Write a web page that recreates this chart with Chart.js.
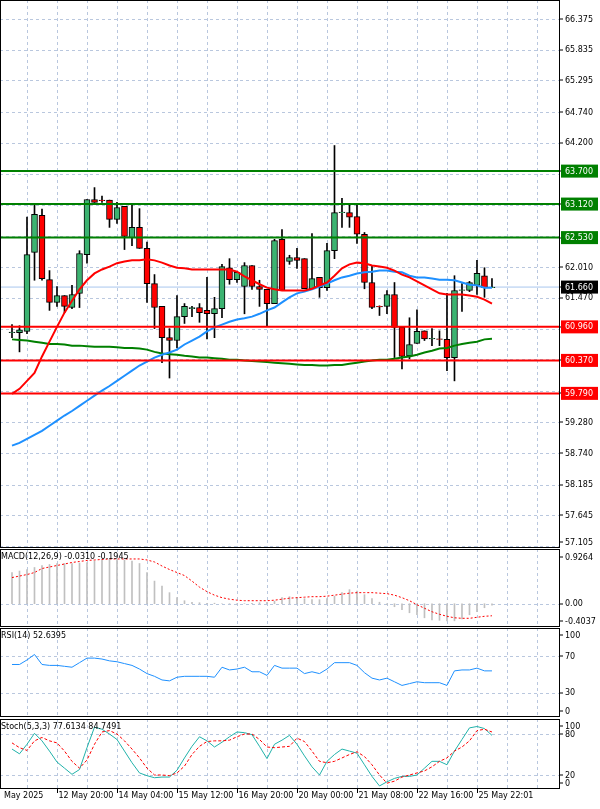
<!DOCTYPE html>
<html><head><meta charset="utf-8">
<script src="https://cdn.jsdelivr.net/npm/chart.js@4/dist/chart.umd.min.js"></script>
<style>
body{margin:0;background:#fff;width:600px;height:809px;overflow:hidden;position:relative}
canvas{position:absolute;left:0}
</style></head><body>
<canvas id="cMain" width="600" height="548" style="top:0"></canvas>
<canvas id="cMacd" width="600" height="78" style="top:549px"></canvas>
<canvas id="cRsi" width="600" height="89" style="top:628px"></canvas>
<canvas id="cSto" width="600" height="90" style="top:719px"></canvas>
<script>
const openP=[60.86,60.86,60.88,62.27,62.92,61.79,61.39,61.51,61.30,61.55,62.23,63.20,63.19,63.19,62.85,63.08,62.53,62.71,62.34,61.72,61.32,60.77,60.72,61.14,61.28,61.30,61.25,61.19,61.28,62.00,61.79,61.67,62.04,61.67,61.62,61.37,62.50,62.11,62.18,62.16,61.63,61.83,61.65,62.30,62.97,62.97,62.90,62.59,61.74,61.32,61.32,61.53,60.95,60.45,60.67,60.89,60.75,60.75,60.74,60.42,61.60,61.60,61.69,61.86,61.65];
const highP=[61.00,60.98,62.89,63.10,63.03,61.95,61.67,61.51,61.69,62.30,63.20,63.41,63.26,63.19,63.15,63.08,63.10,63.04,62.45,61.88,61.32,60.93,61.51,61.37,61.32,61.37,61.83,61.48,62.06,62.16,61.92,62.09,62.04,61.78,61.62,62.50,62.67,62.22,62.34,62.16,62.60,61.83,62.43,64.15,63.22,63.13,63.13,62.62,62.04,61.33,61.60,61.74,60.95,61.12,61.26,60.89,60.93,60.89,61.55,61.86,61.72,61.76,62.13,62.00,61.81];
const lowP=[60.77,60.52,60.84,61.78,61.78,61.25,61.32,61.21,61.28,61.30,62.08,63.15,63.15,62.71,62.78,62.32,62.39,62.34,61.39,60.93,60.33,60.06,60.59,61.02,61.14,61.04,60.75,60.77,61.12,61.71,61.74,61.19,61.62,61.32,60.98,61.37,61.60,62.06,61.99,61.63,61.63,61.48,61.60,62.16,62.71,62.71,62.43,61.63,61.28,61.16,61.19,60.42,60.22,60.40,60.67,60.72,60.63,60.63,60.19,60.01,61.23,61.58,61.53,61.48,61.65];
const closeP=[60.87,60.91,62.23,62.94,61.81,61.39,61.51,61.32,61.53,62.25,63.20,63.15,63.18,62.85,63.06,62.55,62.71,62.34,61.72,61.30,60.77,60.72,61.14,61.32,61.30,61.21,61.19,61.28,62.02,61.79,61.92,62.04,61.67,61.62,61.37,62.48,61.60,62.18,62.13,61.63,61.81,61.65,62.30,62.97,62.98,62.89,62.59,61.74,61.30,61.31,61.53,60.95,60.44,60.65,60.88,60.75,60.76,60.74,60.42,61.60,61.61,61.74,61.90,61.65,61.66];
const maRed=[59.78,59.87,60.01,60.15,60.44,60.70,60.96,61.21,61.42,61.62,61.78,61.90,61.97,62.02,62.08,62.11,62.13,62.13,62.15,62.13,62.09,62.04,62.00,61.99,61.97,61.97,61.97,61.97,61.97,61.97,61.93,61.85,61.78,61.71,61.65,61.62,61.60,61.60,61.60,61.60,61.63,61.69,61.74,61.86,61.99,62.06,62.09,62.08,62.04,62.02,62.00,61.95,61.88,61.83,61.76,61.69,61.62,61.55,61.53,61.53,61.53,61.51,61.49,61.44,61.37];
const maBlue=[58.87,58.92,58.99,59.06,59.13,59.22,59.31,59.40,59.48,59.57,59.66,59.75,59.84,59.92,60.01,60.10,60.19,60.28,60.35,60.42,60.47,60.51,60.56,60.65,60.72,60.79,60.88,60.95,61.00,61.05,61.09,61.11,61.14,61.19,61.25,61.30,61.39,61.48,61.55,61.58,61.62,61.67,61.72,61.78,61.83,61.86,61.90,61.92,61.93,61.95,61.95,61.93,61.92,61.86,61.83,61.83,61.81,61.79,61.79,61.78,61.74,61.70,61.69,61.65,61.65];
const maGreen=[60.74,60.73,60.72,60.70,60.68,60.66,60.66,60.65,60.63,60.63,60.62,60.61,60.61,60.61,60.60,60.59,60.59,60.58,60.56,60.52,60.49,60.48,60.47,60.45,60.44,60.42,60.42,60.41,60.40,60.38,60.38,60.37,60.36,60.35,60.34,60.33,60.32,60.31,60.30,60.29,60.29,60.28,60.28,60.29,60.29,60.31,60.33,60.35,60.37,60.38,60.38,60.40,60.42,60.44,60.47,60.51,60.54,60.58,60.59,60.63,60.66,60.68,60.70,60.74,60.75];
const macdHist=[0.62,0.65,0.68,0.72,0.76,0.78,0.80,0.80,0.80,0.81,0.82,0.85,0.87,0.88,0.88,0.87,0.85,0.80,0.62,0.45,0.35,0.22,0.12,0.06,0.03,0.02,0.01,0.01,0.0,0.0,-0.01,0.0,0.01,0.02,0.03,0.05,0.12,0.14,0.12,0.10,0.08,0.08,0.10,0.15,0.22,0.28,0.25,0.18,0.10,0.03,-0.02,-0.06,-0.12,-0.18,-0.22,-0.28,-0.32,-0.33,-0.34,-0.34,-0.30,-0.22,-0.16,-0.08,-0.03];
const macdSignal=[0.52,0.55,0.58,0.62,0.70,0.73,0.76,0.79,0.82,0.84,0.86,0.87,0.88,0.89,0.89,0.89,0.89,0.89,0.87,0.83,0.75,0.68,0.62,0.56,0.45,0.33,0.24,0.17,0.12,0.09,0.07,0.06,0.06,0.06,0.06,0.07,0.09,0.11,0.12,0.13,0.14,0.14,0.15,0.17,0.19,0.21,0.22,0.22,0.22,0.21,0.20,0.17,0.12,0.06,-0.02,-0.09,-0.16,-0.21,-0.25,-0.28,-0.29,-0.29,-0.27,-0.25,-0.24];
const rsi=[61,61,66,72,61,60,60,59,58,63,68,68,67,65,64,62,60,56,51,48,44,43,47,48,48,48,48,47,58,55,56,58,53,53,49,60,57,57,57,51,53,51,56,63,63,63,60,52,46,44,46,42,38,40,42,41,41,41,38,54,55,55,57,54,54];
const stochK=[58,51,65,81,70,55,39,30,21,28,60,90,87,80,72,55,38,23,19,16,17,17,27,45,62,76,70,61,68,76,83,82,79,62,44,65,71,78,65,48,32,20,40,50,58,55,52,35,18,4,10,15,18,18,20,30,40,40,35,55,72,89,91,88,78];
const stochD=[67,60,56,70,75,70,67,55,40,30,42,65,83,85,80,70,58,45,30,20,20,19,23,33,50,62,69,70,70,71,76,80,80,72,61,60,61,62,74,69,55,40,38,40,45,50,54,47,35,20,8,11,17,20,23,26,32,40,45,55,61,70,85,87,83];
const priceTicks=[66.375,65.835,65.295,64.740,64.200,63.645,63.105,62.565,62.010,61.470,60.930,60.390,59.835,59.280,58.740,58.185,57.645,57.105];
const visibleTickLabels=[66.375,65.835,65.295,64.740,64.200,62.010,61.470,59.280,58.740,58.185,57.645,57.105];
const resistLevels=[63.700,63.120,62.530];
const supportLevels=[60.960,60.370,59.790];
const lastPrice=61.660;
const dateTicks=[-2,6,14,22,30,38,46,54,62];
const dateLabels=["May 2025","12 May 20:00","14 May 04:00","15 May 12:00","16 May 20:00","20 May 00:00","21 May 08:00","22 May 16:00","25 May 22:01"];
const vGridIdx=[2,6,10,14,18,22,26,30,34,38,42,46,50,54,58,62,66,70];

const FONT='8px "DejaVu Sans"';
const decor={id:'decor',
 beforeDatasetsDraw(ch,a,o){const {ctx,chartArea:ca,scales:{x,y}}=ch;ctx.save();ctx.strokeStyle='#b9c7de';ctx.lineWidth=1;ctx.setLineDash([3,3]);
  (o.vgrid||[]).forEach(v=>{const p=Math.round(x.getPixelForValue(v))+0.5;if(p>ca.left&&p<ca.right){ctx.beginPath();ctx.moveTo(p,ca.top);ctx.lineTo(p,ca.bottom);ctx.stroke();}});
  (o.hgrid||[]).forEach(v=>{const p=Math.round(y.getPixelForValue(v))+0.5;if(p>ca.top&&p<ca.bottom){ctx.beginPath();ctx.moveTo(ca.left,p);ctx.lineTo(ca.right,p);ctx.stroke();}});
  ctx.setLineDash([]);
  (o.lines||[]).forEach(l=>{const p=y.getPixelForValue(l.v);ctx.strokeStyle=l.c;ctx.lineWidth=l.w;ctx.beginPath();ctx.moveTo(ca.left,p);ctx.lineTo(ca.right,p);ctx.stroke();});
  ctx.restore();},
 afterDatasetsDraw(ch,a,o){const {ctx,chartArea:ca,scales:{x,y}}=ch;ctx.save();ctx.setLineDash([]);
  (o.lines2||[]).forEach(l=>{const p=y.getPixelForValue(l.v);ctx.strokeStyle=l.c;ctx.lineWidth=l.w;ctx.beginPath();ctx.moveTo(ca.left,p);ctx.lineTo(ca.right,p);ctx.stroke();});
  ctx.strokeStyle='#000';ctx.lineWidth=1;ctx.strokeRect(ca.left+0.5,ca.top+0.5,ca.right-ca.left-1,ca.bottom-ca.top-1);
  ctx.font=FONT;ctx.textBaseline='middle';
  (o.labels||[]).forEach(l=>{let p=y.getPixelForValue(l.v);p=Math.max(ca.top+7,Math.min(ca.bottom-6,p));
   ctx.fillStyle='#000';ctx.fillRect(ca.right,Math.round(p)-0.5,3,1);
   if(l.bg){ctx.fillStyle=l.bg;ctx.fillRect(ca.right+1,p-6.5,37,13);ctx.fillStyle='#fff';}else ctx.fillStyle='#000';
   ctx.fillText(l.t,ca.right+5,p+0.5);});
  if(o.title){ctx.fillStyle='#000';ctx.fillText(o.title,1,ca.top+8);}
  if(o.dates){ctx.textBaseline='top';dateTicks.forEach((d,i)=>{const p=Math.round(x.getPixelForValue(d))+0.5;ctx.beginPath();ctx.moveTo(p,ca.bottom);ctx.lineTo(p,ca.bottom+4);ctx.stroke();ctx.fillText(dateLabels[i],i===0?4:p+1,ca.bottom+3);});}
  ctx.restore();}
};
Chart.register(decor);
const idx=openP.map((_,i)=>i);
const xScale={type:'linear',display:false,min:-1.6,max:73.07,offset:false};
function baseOpts(ymin,ymax,dec,bottomPad){return {responsive:false,animation:false,events:[],
 layout:{padding:{left:0,right:40,top:0,bottom:bottomPad||0}},
 plugins:{legend:{display:false},tooltip:{enabled:false},decor:dec},
 scales:{x:xScale,y:{type:'linear',display:false,min:ymin,max:ymax}}};}
const line=(arr,c,w,dash,ord)=>({type:'line',data:idx.map(i=>({x:i,y:arr[i]})),borderColor:c,borderWidth:w,borderDash:dash||[],pointRadius:0,tension:0,order:ord});

const mainLabels=visibleTickLabels.map(v=>({v,t:v.toFixed(3)}))
 .concat(resistLevels.map(v=>({v,t:v.toFixed(3),bg:'#008000'})))
 .concat(supportLevels.map(v=>({v,t:v.toFixed(3),bg:'#ff0000'})))
 .concat([{v:lastPrice,t:lastPrice.toFixed(3),bg:'#000'}]);
new Chart(document.getElementById('cMain'),{type:'bar',data:{datasets:[
 {type:'bar',data:idx.map(i=>({x:i,y:[lowP[i],highP[i]]})),backgroundColor:'#000',barThickness:1,grouped:false,order:6},
 {type:'bar',data:idx.map(i=>({x:i,y:[openP[i],closeP[i]]})),backgroundColor:idx.map(i=>closeP[i]>=openP[i]?'#3cb371':'#ff0000'),borderColor:'#000',borderWidth:1,borderSkipped:false,barThickness:6,grouped:false,order:5},
 line(maGreen,'#008000',2,null,3),line(maBlue,'#1e90ff',2,null,2),line(maRed,'#ff0000',2,null,1)
]},options:baseOpts(57.07,66.71,{vgrid:vGridIdx,hgrid:priceTicks,
 lines:[{v:lastPrice,c:'#a9c6ee',w:1}],
 lines2:resistLevels.map(v=>({v,c:'#008000',w:2})).concat(supportLevels.map(v=>({v,c:'#ff0000',w:2}))),
 labels:mainLabels})});

new Chart(document.getElementById('cMacd'),{type:'bar',data:{datasets:[
 {type:'bar',data:idx.map(i=>({x:i,y:macdHist[i]})),backgroundColor:'#c0c0c0',barThickness:1,grouped:false,order:2},
 line(macdSignal,'#ff0000',1,[2,2],1)]},
 options:baseOpts(-0.463,1.088,{vgrid:vGridIdx,hgrid:[0],title:'MACD(12,26,9) -0.0310 -0.1945',
 labels:[{v:0.9264,t:'0.9264'},{v:0,t:'0.00'},{v:-0.4037,t:'-0.4037'}]})});

new Chart(document.getElementById('cRsi'),{type:'line',data:{datasets:[line(rsi,'#1e90ff',1,null,1)]},
 options:baseOpts(3.3,101.1,{vgrid:vGridIdx,hgrid:[70,30],title:'RSI(14) 52.6395',
 labels:[{v:100,t:'100'},{v:70,t:'70'},{v:30,t:'30'},{v:0,t:'0'}]})});

new Chart(document.getElementById('cSto'),{type:'line',data:{datasets:[line(stochK,'#20b2aa',1,null,2),line(stochD,'#ff0000',1,[3,2],1)]},
 options:baseOpts(-0.5,102,{vgrid:vGridIdx,hgrid:[80,20],title:'Stoch(5,3,3) 77.6134 84.7491',dates:true,
 labels:[{v:100,t:'100'},{v:80,t:'80'},{v:20,t:'20'},{v:0,t:'0'}]},20)});
</script></body></html>
